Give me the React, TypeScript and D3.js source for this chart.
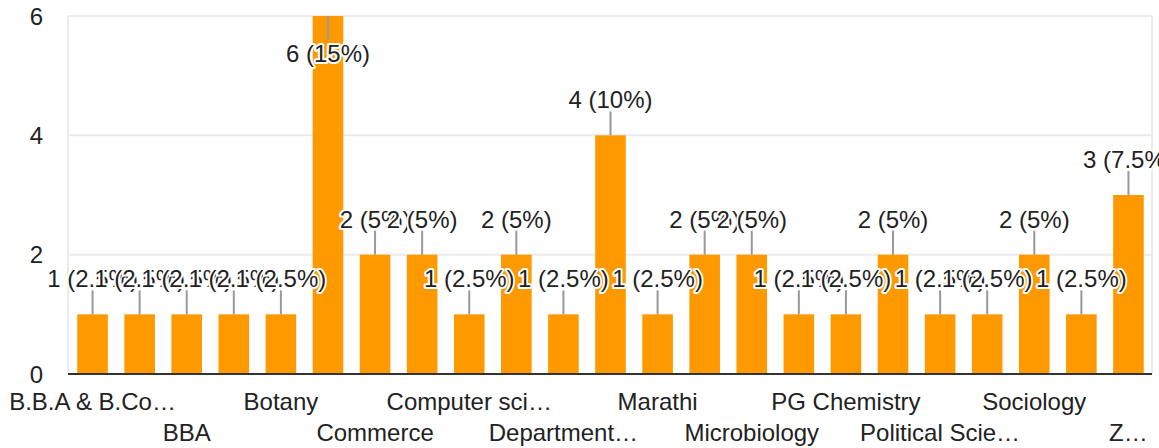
import * as d3 from 'd3';

// response counts per department (labels as shown on the axis; odd ones are hidden by the chart)
const categories = [
  'B.B.A & B.Co…', 'B.Com', 'BBA', 'BCA', 'Botany', 'Chemistry', 'Commerce', 'Computer Application',
  'Computer sci…', 'Computer Science', 'Department…', 'English', 'Marathi', 'Mathematics',
  'Microbiology', 'PG Botany', 'PG Chemistry', 'Physics', 'Political Scie…', 'Psychology',
  'Sociology', 'Statistics', 'Z…',
];
const counts = [1, 1, 1, 1, 1, 6, 2, 2, 1, 2, 1, 4, 1, 2, 2, 1, 1, 2, 1, 1, 2, 1, 3];
const yTicks = [0, 2, 4, 6];

const W = 1159;
const H = 448;
const FONT = 'Arial, "Liberation Sans", sans-serif';

export default function App() {
  const total = d3.sum(counts);
  const left = 68;
  const right = 1152;
  const top = 16;
  const bottom = 374;

  const x = d3.scaleBand<string>()
    .domain(categories)
    .range([69, right])
    .paddingInner(0.35)
    .paddingOuter(0.175);

  const y = d3.scaleLinear().domain([0, 6]).range([bottom, top]);

  const pct = (v: number) => {
    const p = (v / total) * 100;
    return `${v} (${+p.toFixed(1)}%)`;
  };

  return (
    <svg width={W} height={H} style={{ position: 'absolute', left: 0, top: 0 }} fontFamily={FONT}>
      {/* gridlines */}
      {yTicks.map(t => (
        <line key={t} x1={left} x2={right} y1={y(t)} y2={y(t)} stroke="#ebebeb" strokeWidth={2} />
      ))}
      <line x1={left} x2={left} y1={top} y2={bottom} stroke="#ebebeb" strokeWidth={2} />
      <line x1={right} x2={right} y1={top} y2={bottom} stroke="#ebebeb" strokeWidth={2} />

      {/* y tick labels */}
      {yTicks.map(t => (
        <text key={t} x={43} y={y(t)} textAnchor="end" dominantBaseline="central" fontSize={24} fill="#222">
          {t}
        </text>
      ))}

      {/* bars */}
      {categories.map((c, i) => (
        <rect key={c} x={x(c)} y={y(counts[i])} width={x.bandwidth()} height={bottom - y(counts[i])} fill="#ff9900" />
      ))}

      {/* baseline */}
      <line x1={left} x2={right} y1={bottom} y2={bottom} stroke="#333" strokeWidth={2} />

      {/* annotations */}
      {categories.map((c, i) => {
        const cx = (x(c) ?? 0) + x.bandwidth() / 2;
        const yt = y(counts[i]);
        const inside = yt - 40 < top;
        const stemEnd = inside ? yt + 24 : yt - 24;
        const base = inside ? yt + 46 : yt - 27;
        return (
          <g key={c}>
            <line x1={cx} x2={cx} y1={yt} y2={stemEnd} stroke="#999" strokeWidth={2} />
            <text
              x={cx}
              y={base}
              textAnchor="middle"
              fontSize={24}
              fill="#222"
              stroke="#fff"
              strokeWidth={4}
              strokeLinejoin="round"
              paintOrder="stroke"
            >
              {pct(counts[i])}
            </text>
          </g>
        );
      })}

      {/* x tick labels, every other category on two staggered rows */}
      {categories.map((c, i) => {
        if (i % 2 !== 0) return null;
        const cx = (x(c) ?? 0) + x.bandwidth() / 2;
        const row = i % 4 === 0 ? 410 : 441;
        return (
          <text key={c} x={cx} y={row} textAnchor="middle" fontSize={24} fill="#222">
            {c}
          </text>
        );
      })}
    </svg>
  );
}
